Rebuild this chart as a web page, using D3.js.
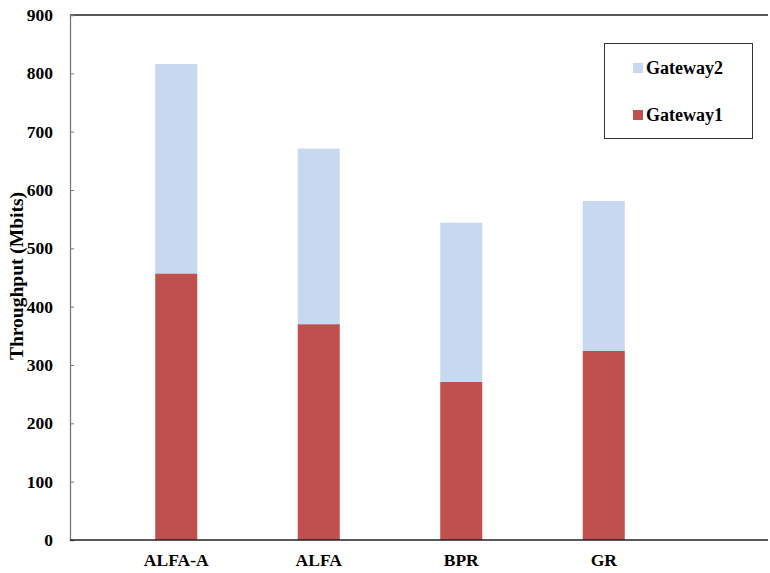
<!DOCTYPE html>
<html>
<head>
<meta charset="utf-8">
<script src="https://cdn.jsdelivr.net/npm/d3@7"></script>
<style>
  body { margin: 0; background: #fff; }
  text { font-family: "Liberation Serif", "Times New Roman", serif; font-weight: bold; }
</style>
</head>
<body>
<svg id="chart" width="770" height="573"></svg>
<script>
// Throughput per routing scheme, stacked by gateway
const categories = ["ALFA-A", "ALFA", "BPR", "GR"];
const gateway1 = [457, 370, 271, 324];
const gateway2 = [359, 301, 273, 257];
const seriesNames = ["Gateway1", "Gateway2"];
const seriesColors = ["#c0504d", "#c6d9f0"];
const yTicks = [0, 100, 200, 300, 400, 500, 600, 700, 800, 900];

const svg = d3.select("#chart");
const plotLeft = 70, plotRight = 768, plotTop = 15, plotBottom = 540;

const x = d3.scaleBand().domain(categories).range([105, 675]).paddingInner(0.705).paddingOuter(0.3525);
const y = d3.scaleLinear().domain([0, 900]).range([plotBottom, plotTop]);

const rows = categories.map((c, i) => ({ cat: c, Gateway1: gateway1[i], Gateway2: gateway2[i] }));
const stacked = d3.stack().keys(seriesNames)(rows);

// bars
svg.append("g").selectAll("g").data(stacked).join("g")
  .attr("fill", (d, i) => seriesColors[i])
  .selectAll("rect").data(d => d).join("rect")
  .attr("x", d => x(d.data.cat))
  .attr("width", x.bandwidth())
  .attr("y", d => y(d[1]))
  .attr("height", d => y(d[0]) - y(d[1]));

// top frame line
svg.append("line").attr("x1", plotLeft).attr("x2", plotRight).attr("y1", plotTop).attr("y2", plotTop)
  .attr("stroke", "#222").attr("stroke-width", 1.3);

// y axis
const yAxis = d3.axisLeft(y).tickValues(yTicks).tickSize(-4).tickPadding(17);
const gy = svg.append("g").attr("transform", `translate(${plotLeft},0)`).call(yAxis);
gy.select(".domain").attr("stroke", "#777").attr("stroke-width", 1.3);
gy.selectAll(".tick line").attr("stroke", "#777");
gy.selectAll(".tick text").attr("font-size", 17.5).attr("fill", "#000")
  .attr("font-family", "Liberation Serif").attr("font-weight", "bold");

// x axis
const xAxis = d3.axisBottom(x).tickSize(0).tickPadding(14);
const gx = svg.append("g").attr("transform", `translate(0,${plotBottom})`).call(xAxis);
gx.select(".domain").attr("d", `M${plotLeft},0H${plotRight}`).attr("stroke", "#222").attr("stroke-width", 1.3);
gx.selectAll(".tick text").attr("font-size", 17.5).attr("fill", "#000")
  .attr("font-family", "Liberation Serif").attr("font-weight", "bold");

// y axis title
svg.append("text").attr("transform", "translate(23,276) rotate(-90)")
  .attr("text-anchor", "middle").attr("font-size", 19.5).text("Throughput (Mbits)");

// legend
const lg = svg.append("g");
lg.append("rect").attr("x", 604.5).attr("y", 43.5).attr("width", 148).attr("height", 95)
  .attr("fill", "#fff").attr("stroke", "#333").attr("stroke-width", 1);
const legendItems = [
  { name: "Gateway2", color: seriesColors[1], yy: 68 },
  { name: "Gateway1", color: seriesColors[0], yy: 115 }
];
legendItems.forEach(it => {
  lg.append("rect").attr("x", 633).attr("y", it.yy - 5).attr("width", 10).attr("height", 10).attr("fill", it.color);
  lg.append("text").attr("x", 646).attr("y", it.yy + 6).attr("font-size", 18).text(it.name);
});
</script>
</body>
</html>
